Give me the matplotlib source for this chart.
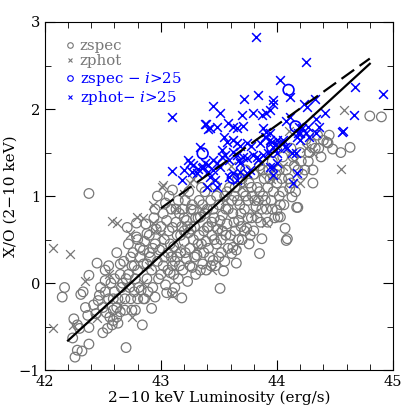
import matplotlib
matplotlib.use("Agg")
import matplotlib.pyplot as plt
from matplotlib.lines import Line2D
from matplotlib.ticker import MultipleLocator

plt.rcParams['font.family'] = ['DejaVu Serif']
plt.rcParams['mathtext.fontset'] = 'dejavuserif'

# zspec (grey circles): (log Lx, X/O)
zspec = [
    (42.15, -0.16), (42.17, -0.05), (42.24, -0.63), (42.25, -0.41), (42.26, -0.85), (42.28, -0.48),
    (42.28, -0.77), (42.30, -0.52), (42.31, -0.13), (42.32, -0.78), (42.35, -0.28), (42.37, -0.37),
    (42.38, -0.51), (42.38, -0.70), (42.38, 0.09), (42.38, 1.03), (42.33, -0.10),
    (42.45, 0.23), (42.46, -0.20), (42.47, -0.14), (42.50, -0.28), (42.50, -0.57), (42.52, 0.15),
    (42.52, 0.03), (42.53, -0.34), (42.55, -0.18), (42.56, -0.39), (42.59, -0.43), (42.59, -0.31),
    (42.59, -0.18), (42.60, 0.05), (42.62, -0.28), (42.62, -0.39), (42.63, -0.46), (42.63, -0.18),
    (42.65, -0.33), (42.65, 0.10), (42.57, 0.00), (42.48, -0.05), (42.55, 0.20), (42.66, -0.05),
    (42.68, 0.25), (42.62, 0.35), (42.58, -0.48), (42.44, -0.35), (42.54, -0.52), (42.67, 0.00),
    (42.69, -0.31), (42.69, -0.18), (42.70, -0.74), (42.71, 0.64), (42.72, 0.10), (42.73, -0.05),
    (42.74, -0.18), (42.75, -0.31), (42.75, 0.20), (42.76, 0.35), (42.78, -0.31), (42.78, 0.05),
    (42.79, 0.69), (42.79, 0.53), (42.80, -0.18), (42.80, 0.15), (42.82, 0.41), (42.82, 0.30),
    (42.83, -0.08), (42.84, -0.48), (42.85, -0.18), (42.85, 0.22), (42.86, 0.48), (42.86, -0.18),
    (42.88, 0.57), (42.88, 0.05), (42.90, 0.35), (42.91, 0.30), (42.92, -0.29), (42.92, 0.15),
    (42.93, -0.05), (42.95, -0.16), (42.95, 0.45), (42.96, 0.62), (42.97, 0.25), (42.98, 0.05),
    (42.99, 0.38), (42.72, 0.45), (42.77, -0.10), (42.87, 0.68), (42.94, 0.75), (42.89, -0.10),
    (42.81, -0.05), (42.74, 0.30), (42.90, 0.55), (42.85, 0.38), (42.80, 0.50), (42.77, 0.20),
    (42.70, 0.05), (42.65, 0.22), (42.60, -0.10), (42.52, -0.10), (42.42, -0.25), (42.88, 0.22),
    (42.93, 0.40), (42.95, 0.85), (42.97, 1.00),
    (43.02, 0.80), (43.02, 0.20), (43.03, 0.50), (43.04, -0.02), (43.05, 0.72), (43.05, -0.11),
    (43.06, 0.35), (43.07, 0.60), (43.08, 0.12), (43.10, 0.64), (43.10, -0.11), (43.10, 1.07),
    (43.11, 0.42), (43.12, 0.25), (43.13, 0.85), (43.14, 0.55), (43.15, 0.05), (43.16, 0.80),
    (43.17, 0.35), (43.18, -0.17), (43.18, 0.65), (43.19, 0.15), (43.20, 0.48), (43.21, 0.95),
    (43.22, 0.72), (43.22, 0.28), (43.23, 0.02), (43.24, 0.58), (43.25, 0.40), (43.26, 0.85),
    (43.27, 0.18), (43.28, 0.84), (43.28, 0.50), (43.29, 0.65), (43.30, 0.10), (43.04, 0.92),
    (43.09, 0.30), (43.13, 0.70), (43.16, 0.20), (43.20, 0.75), (43.26, 0.62), (43.01, 0.40),
    (43.07, 1.00), (43.24, 1.05), (43.12, -0.05), (43.00, 0.10), (43.03, 0.30), (43.06, 0.15),
    (43.08, 0.45), (43.09, 0.85), (43.11, 0.10), (43.14, 0.30), (43.15, 0.95), (43.17, 0.55),
    (43.19, 0.85), (43.21, 0.35), (43.23, 0.65), (43.25, 0.20), (43.27, 0.90), (43.29, 0.30),
    (43.30, 0.75), (43.00, 0.65), (43.10, 0.20), (43.20, 0.60),
    (43.31, 0.32), (43.32, 0.75), (43.33, 0.95), (43.34, 0.76), (43.35, 0.45), (43.36, 0.22),
    (43.37, 0.60), (43.38, 1.05), (43.39, 0.15), (43.40, 0.64), (43.40, 0.85), (43.41, 0.40),
    (43.42, 0.30), (43.43, 0.95), (43.44, 0.55), (43.45, 0.26), (43.46, 0.75), (43.47, 1.12),
    (43.48, 0.45), (43.49, 0.62), (43.50, 0.90), (43.51, -0.06), (43.52, 0.35), (43.53, 0.78),
    (43.54, 0.14), (43.55, 1.00), (43.56, 0.55), (43.57, 0.68), (43.58, 0.40), (43.59, 1.10),
    (43.33, 0.55), (43.44, 0.70), (43.36, 0.90), (43.52, 0.50), (43.47, 0.20), (43.58, 0.85),
    (43.39, 0.48), (43.32, 0.45), (43.34, 0.15), (43.35, 1.10), (43.37, 0.35), (43.38, 0.80),
    (43.41, 0.65), (43.43, 0.20), (43.45, 0.85), (43.46, 0.50), (43.48, 1.00), (43.50, 0.30),
    (43.51, 0.72), (43.53, 0.60), (43.55, 0.25), (43.56, 0.85), (43.57, 1.05),
    (43.61, 0.34), (43.62, 0.41), (43.62, 0.80), (43.63, 1.00), (43.64, 0.60), (43.65, 0.23),
    (43.65, 0.38), (43.66, 1.20), (43.67, 0.72), (43.68, 0.90), (43.70, 0.50), (43.71, 1.05),
    (43.72, 0.85), (43.73, 1.30), (43.74, 0.63), (43.75, 0.95), (43.76, 1.15), (43.78, 0.75),
    (43.79, 1.00), (43.80, 1.25), (43.82, 0.88), (43.83, 1.10), (43.85, 0.34), (43.85, 1.35),
    (43.86, 0.70), (43.87, 0.51), (43.88, 1.00), (43.89, 1.20), (43.69, 0.65), (43.77, 0.55),
    (43.84, 0.95), (43.66, 0.95), (43.60, 0.55), (43.61, 0.95), (43.63, 0.70), (43.64, 1.10),
    (43.67, 0.50), (43.69, 0.80), (43.70, 1.20), (43.72, 0.60), (43.73, 1.00), (43.75, 0.75),
    (43.76, 0.45), (43.78, 1.10), (43.80, 0.60), (43.81, 0.95), (43.83, 0.75), (43.85, 1.05),
    (43.87, 0.85), (43.88, 1.30),
    (43.91, 0.85), (43.92, 1.10), (43.93, 1.30), (43.95, 0.95), (43.96, 1.40), (43.98, 0.75),
    (44.00, 0.84), (44.00, 1.15), (44.01, 0.76), (44.02, 1.30), (44.03, 0.90), (44.03, 0.76),
    (44.05, 1.45), (44.07, 0.63), (44.08, 0.49), (44.09, 0.51), (44.10, 1.20), (44.11, 1.09),
    (44.12, 1.55), (44.13, 0.99), (44.15, 1.35), (44.16, 1.05), (44.17, 0.87), (44.18, 0.87),
    (44.20, 1.50), (44.22, 1.25), (44.25, 1.65), (44.27, 1.40), (44.31, 1.30), (44.31, 1.15),
    (44.33, 1.55), (44.05, 1.05), (43.97, 1.05), (43.90, 0.95), (43.92, 0.70), (43.94, 1.20),
    (43.96, 0.85), (43.99, 1.25), (44.02, 1.00), (44.04, 1.20), (44.06, 0.90), (44.08, 1.30),
    (44.12, 1.15), (44.14, 1.45), (44.18, 1.30), (44.21, 1.40), (44.24, 1.30), (44.28, 1.50),
    (44.30, 1.60),
    (44.35, 1.70), (44.40, 1.64), (44.43, 1.62), (44.44, 1.61), (44.48, 1.54), (44.63, 1.56),
    (44.80, 1.92), (44.90, 1.91), (44.36, 1.55), (44.38, 1.45), (44.45, 1.70), (44.55, 1.50),
]

# zphot (grey crosses)
zphot = [
    (42.07, 0.40), (42.22, 0.33), (42.07, -0.52), (42.35, 0.02), (42.24, -0.48), (42.58, 0.71),
    (42.62, 0.69), (42.79, 0.76), (42.85, 0.75), (42.93, 0.90), (42.73, 0.57), (42.75, -0.39),
    (43.10, -0.14), (43.02, 1.13), (43.28, 1.20), (43.25, 1.15), (44.58, 1.99), (44.55, 1.31),
    (44.31, 1.49), (43.91, 0.69), (43.44, 0.15), (42.45, -0.40), (42.55, 0.10), (42.70, -0.05),
    (42.90, 0.20), (43.00, 0.55), (43.15, 0.40), (43.20, 1.02), (43.35, 0.85), (43.50, 0.65),
    (43.55, 0.95), (43.65, 0.45), (43.70, 1.10), (43.80, 0.80), (43.85, 1.25), (43.95, 1.20),
    (44.05, 1.35), (44.15, 1.40), (44.20, 1.15), (44.25, 1.55), (44.00, 1.60), (44.10, 1.75),
    (43.60, 1.35), (43.40, 1.10), (43.30, 0.40), (42.95, 0.60), (42.85, 0.00), (42.65, -0.25),
    (43.12, 0.85), (43.75, 1.25), (43.01, 1.10), (42.93, 0.69),
]

# zspec with i>25 (blue circles)
zspec_faint = [(43.36, 1.49), (44.10, 2.22), (44.16, 1.80), (43.62, 1.21), (43.96, 1.56)]

# zphot with i>25 (blue crosses)
zphot_faint = [
    (43.82, 2.83), (44.25, 2.54), (44.03, 2.33), (44.67, 2.25), (44.91, 2.17), (43.84, 2.16),
    (43.72, 2.12), (44.11, 2.14), (43.97, 2.10), (43.97, 2.06), (43.94, 1.99), (43.91, 1.95),
    (44.33, 2.12), (44.26, 2.02), (43.45, 2.03), (43.51, 1.95), (43.70, 1.93), (43.79, 1.95),
    (43.87, 1.93), (44.41, 1.95), (44.66, 1.93), (43.38, 1.83), (43.42, 1.78), (43.48, 1.79),
    (43.58, 1.84), (43.62, 1.79), (43.66, 1.78), (43.71, 1.80), (43.88, 1.78), (43.91, 1.74),
    (43.94, 1.72), (44.11, 1.91), (44.19, 1.79), (44.18, 1.72), (44.27, 1.79), (44.36, 1.79),
    (44.34, 1.88), (44.57, 1.75), (43.54, 1.68), (43.57, 1.62), (43.62, 1.64), (43.66, 1.61),
    (43.68, 1.57), (43.74, 1.61), (43.78, 1.57), (43.91, 1.68), (43.94, 1.64), (43.96, 1.62),
    (44.05, 1.64), (44.07, 1.56), (44.17, 1.68), (44.20, 1.72), (43.34, 1.56), (43.45, 1.41),
    (43.48, 1.38), (43.51, 1.33), (43.53, 1.45), (43.62, 1.51), (43.66, 1.47), (43.67, 1.41),
    (43.71, 1.45), (43.74, 1.44), (43.79, 1.47), (43.84, 1.41), (43.88, 1.47), (43.92, 1.49),
    (43.97, 1.56), (43.98, 1.59), (43.10, 1.91), (43.39, 1.83), (43.41, 1.77), (43.23, 1.41),
    (43.28, 1.36), (43.32, 1.31), (43.27, 1.28), (43.31, 1.26), (43.35, 1.32), (43.38, 1.38),
    (43.41, 1.36), (43.10, 1.29), (43.18, 1.18), (43.25, 1.38), (43.36, 1.33), (43.41, 1.28),
    (43.45, 1.30), (43.48, 1.10), (43.47, 1.18), (43.42, 1.22), (43.53, 1.53), (43.55, 1.47),
    (43.59, 1.41), (43.68, 1.38), (43.83, 1.45), (43.59, 1.22), (43.66, 1.18), (43.62, 1.26),
    (43.68, 1.28), (43.74, 1.26), (43.77, 1.30), (43.85, 1.61), (43.90, 1.68), (44.00, 1.49),
    (43.94, 1.33), (44.22, 1.78), (44.25, 1.72), (44.28, 1.68), (44.34, 1.72), (44.20, 1.64),
    (44.00, 1.64), (44.05, 1.61), (44.09, 1.55), (44.13, 1.49), (44.16, 1.49), (44.17, 1.26),
    (44.14, 1.15), (43.97, 1.33), (44.00, 1.38), (44.56, 1.74), (43.97, 1.24), (44.23, 2.06),
    (44.08, 1.86), (43.40, 1.10), (43.20, 1.30),
]

# relations
solid_x = [42.2, 44.8]
solid_y = [-0.66, 2.52]
dashed_x = [43.0, 44.8]
dashed_y = [0.86, 2.58]

grey = '#777777'
blue = '#0000ff'

fig = plt.figure(figsize=(4.15, 4.15), dpi=100)
ax = fig.add_axes([0.108, 0.108, 0.839, 0.839])

ax.scatter([p[0] for p in zspec], [p[1] for p in zspec], s=48, facecolors='none',
           edgecolors=grey, linewidths=0.9, marker='o')
ax.scatter([p[0] for p in zphot], [p[1] for p in zphot], s=40, c=grey,
           linewidths=0.9, marker='x')
ax.scatter([p[0] for p in zphot_faint], [p[1] for p in zphot_faint], s=40, c=blue,
           linewidths=1.1, marker='x', zorder=3)
ax.scatter([p[0] for p in zspec_faint], [p[1] for p in zspec_faint], s=60, facecolors='none',
           edgecolors=blue, linewidths=1.2, marker='o', zorder=3)

ax.plot(solid_x, solid_y, color='black', lw=1.6, zorder=4)
ax.plot(dashed_x, dashed_y, color='black', lw=1.6, dashes=(7, 3), zorder=4)

ax.set_xlim(42, 45)
ax.set_ylim(-1, 3)
ax.xaxis.set_major_locator(MultipleLocator(1))
ax.xaxis.set_minor_locator(MultipleLocator(0.2))
ax.yaxis.set_major_locator(MultipleLocator(1))
ax.yaxis.set_minor_locator(MultipleLocator(0.5))
ax.tick_params(which='both', direction='in', top=True, right=True, labelsize=10.5)
ax.tick_params(which='major', length=7)
ax.tick_params(which='minor', length=4)
ax.set_xlabel('2\u221210 keV Luminosity (erg/s)', fontsize=11, labelpad=1)
ax.set_ylabel('X/O (2\u221210 keV)', fontsize=11, labelpad=1)

handles = [
    Line2D([], [], ls='none', marker='o', mfc='none', mec=grey, ms=4, mew=0.8),
    Line2D([], [], ls='none', marker='x', color=grey, ms=3.5, mew=0.8),
    Line2D([], [], ls='none', marker='o', mfc='none', mec=blue, ms=4, mew=0.8),
    Line2D([], [], ls='none', marker='x', color=blue, ms=3.5, mew=0.8),
]
labels = ['zspec', 'zphot', 'zspec \u2212 $i$>25', 'zphot\u2212 $i$>25']
ax.legend(handles, labels, loc='upper left', frameon=False, fontsize=10.8,
          labelcolor=[grey, grey, blue, blue], handlelength=0.6, handletextpad=0.35,
          labelspacing=0.1, borderaxespad=0.5, bbox_to_anchor=(0.02, 0.99))

fig.savefig('out.png', dpi=100)
